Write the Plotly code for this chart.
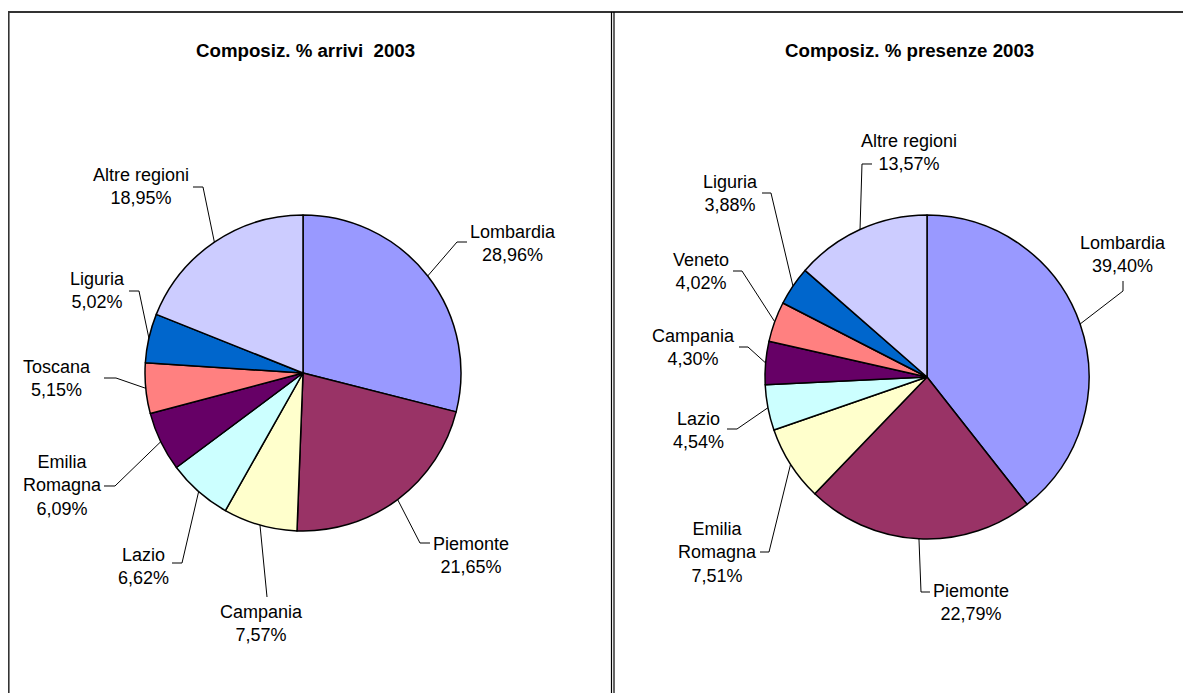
import math
import plotly.graph_objects as go

W, H = 1191, 693
OFF = 8  # page body margin
FW, FH = W - OFF, H - OFF

# ---- data ----
arrivi_regions = ["Lombardia", "Piemonte", "Campania", "Lazio", "Emilia Romagna",
                  "Toscana", "Liguria", "Altre regioni"]
arrivi_values = [28.96, 21.65, 7.57, 6.62, 6.09, 5.15, 5.02, 18.95]
arrivi_colors = ["#9999FF", "#993366", "#FFFFCC", "#CCFFFF", "#660066",
                 "#FF8080", "#0066CC", "#CCCCFF"]

presenze_regions = ["Lombardia", "Piemonte", "Emilia Romagna", "Lazio", "Campania",
                    "Veneto", "Liguria", "Altre regioni"]
presenze_values = [39.40, 22.79, 7.51, 4.54, 4.30, 4.02, 3.88, 13.57]
presenze_colors = ["#9999FF", "#993366", "#FFFFCC", "#CCFFFF", "#660066",
                   "#FF8080", "#0066CC", "#CCCCFF"]

# ---- layout (pixel positions in the page) ----
pies = [
    dict(title="Composiz. % arrivi \u00a02003", title_xy=(305, 50), cx=303, cy=373, r=158,
         regions=arrivi_regions, values=arrivi_values, colors=arrivi_colors,
         # label center, elbow, anchor
         labels=[((513, 243), (457, 242), (467, 242)),
                 ((471, 555), (420, 543), (430, 543)),
                 ((261, 623), (267, 597), (267, 597)),
                 ((143, 566), (182, 563), (172, 563)),
                 ((62, 486), (115, 486), (104, 486)),
                 ((57, 378), (116, 378), (104, 378)),
                 ((97, 290), (139, 291), (129, 291)),
                 ((141, 187), (203, 187), (193, 187))]),
    dict(title="Composiz. % presenze 2003", title_xy=(909, 50), cx=927, cy=377, r=162,
         regions=presenze_regions, values=presenze_values, colors=presenze_colors,
         labels=[((1123, 254), (1123, 291), (1123, 281)),
                 ((971, 602), (921, 592), (930, 592)),
                 ((717, 552), (769, 552), (760, 552)),
                 ((698, 430), (737, 429), (727, 429)),
                 ((693, 347), (748, 347), (739, 347)),
                 ((701, 272), (742, 271), (733, 271)),
                 ((730, 194), (771, 193), (762, 193)),
                 ((909, 152), (862, 164), (872, 164))]),
]


def px(x):
    return (x - OFF) / FW


def py(y):
    return 1 - (y - OFF) / FH


def fmt(v):
    return ("%.2f" % v).replace(".", ",") + "%"


FONT = "Liberation Sans, Arial, sans-serif"

fig = go.Figure()
annotations = []
shapes = []

for p in pies:
    cx, cy, r = p["cx"], p["cy"], p["r"]
    fig.add_trace(go.Pie(
        labels=p["regions"], values=p["values"], sort=False, direction="clockwise",
        rotation=0, textinfo="none", hoverinfo="label+value",
        marker=dict(colors=p["colors"], line=dict(color="#000000", width=1.5)),
        domain=dict(x=[px(cx - r), px(cx + r)], y=[py(cy + r), py(cy - r)]),
        showlegend=False,
    ))
    tx, ty = p["title_xy"]
    annotations.append(dict(x=px(tx), y=py(ty), xref="paper", yref="paper",
                            text="<b>" + p["title"] + "</b>", showarrow=False,
                            font=dict(family=FONT, size=18.7, color="#000000"),
                            xanchor="center", yanchor="middle"))
    total = sum(p["values"])
    cum = 0.0
    for name, val, lab in zip(p["regions"], p["values"], p["labels"]):
        mid = (cum + val / 2) / total * 2 * math.pi
        cum += val
        ex, ey = cx + r * math.sin(mid), cy - r * math.cos(mid)
        (lx, ly), (bx, by), (ax, ay) = lab
        txt = name.replace("Emilia Romagna", "Emilia<br>Romagna") + "<br>" + fmt(val)
        annotations.append(dict(x=px(lx), y=py(ly), xref="paper", yref="paper",
                                text=txt, showarrow=False,
                                font=dict(family=FONT, size=18, color="#000000"),
                                xanchor="center", yanchor="middle", align="center"))
        shapes.append(dict(type="path", xref="paper", yref="paper",
                           path="M %f %f L %f %f L %f %f" % (px(ex), py(ey), px(bx), py(by),
                                                             px(ax), py(ay)),
                           line=dict(color="#000000", width=1)))

# frame lines
shapes += [
    dict(type="line", xref="paper", yref="paper", x0=px(8), x1=1, y0=py(12), y1=py(12),
         line=dict(color="#333333", width=2)),
    dict(type="line", xref="paper", yref="paper", x0=px(8.8), x1=px(8.8), y0=py(12), y1=0,
         line=dict(color="#333333", width=1.6)),
    dict(type="line", xref="paper", yref="paper", x0=px(611.5), x1=px(611.5), y0=py(12), y1=0,
         line=dict(color="#000000", width=1.2)),
    dict(type="line", xref="paper", yref="paper", x0=px(614), x1=px(614), y0=py(12), y1=0,
         line=dict(color="#000000", width=1.2)),
]

fig.update_layout(
    width=FW, height=FH, autosize=False,
    margin=dict(l=0, r=0, t=0, b=0),
    paper_bgcolor="white", plot_bgcolor="white",
    annotations=annotations, shapes=shapes,
    font=dict(family=FONT),
)

fig.write_html("out.html")
